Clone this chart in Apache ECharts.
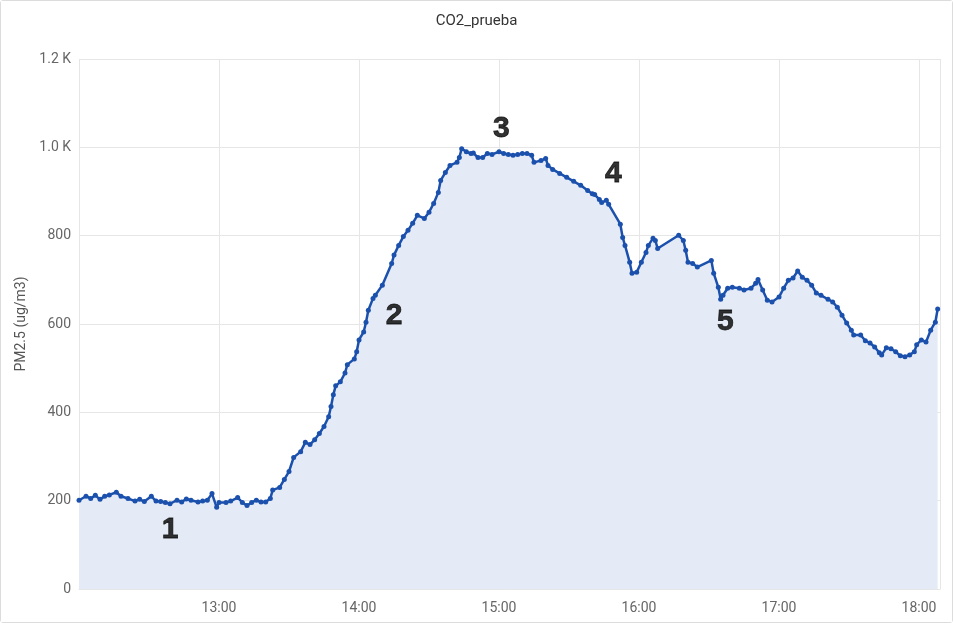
<!DOCTYPE html>
<html>
<head>
<meta charset="utf-8">
<script src="https://cdn.jsdelivr.net/npm/echarts@6/dist/echarts.min.js"></script>
<style>
  html, body { margin: 0; padding: 0; background: #fff; }
  #chart { width: 953px; height: 623px; box-sizing: border-box; border: 1px solid #dcdcdc; border-radius: 3px; }
</style>
</head>
<body>
<div id="chart"></div>
<script>
// ---- data ----
const times = [
  '12:00','12:03','12:05','12:07','12:09','12:11','12:13','12:16','12:18','12:21',
  '12:24','12:26','12:28','12:31','12:33','12:35','12:37','12:39','12:42','12:44',
  '12:46','12:48','12:51','12:53','12:55','12:57','12:59','13:00','13:03','13:05',
  '13:08','13:10','13:12','13:14','13:16','13:18','13:20','13:22','13:23','13:26',
  '13:28','13:30','13:32','13:35','13:37','13:39','13:41','13:43','13:45','13:47',
  '13:48','13:49','13:50','13:52','13:54','13:55','13:58','13:59','14:00','14:02',
  '14:03','14:04','14:06','14:07','14:10','14:14','14:15','14:17','14:19','14:21',
  '14:23','14:25','14:28','14:30','14:32','14:34','14:35','14:37','14:39','14:42',
  '14:43','14:44','14:46','14:48','14:49','14:51','14:53','14:55','14:57','15:00',
  '15:02','15:04','15:06','15:08','15:10','15:12','15:14','15:15','15:18','15:20',
  '15:21','15:23','15:26','15:29','15:32','15:35','15:38','15:40','15:41','15:43',
  '15:44','15:46','15:47','15:52','15:53','15:54','15:56','15:57','15:59','16:01',
  '16:03','16:04','16:06','16:07','16:08','16:17','16:19','16:20','16:21','16:23',
  '16:25','16:31','16:32','16:34','16:35','16:36','16:38','16:40','16:43','16:45',
  '16:48','16:50','16:51','16:53','16:55','16:57','17:00','17:02','17:04','17:06',
  '17:08','17:10','17:12','17:14','17:16','17:18','17:21','17:23','17:25','17:27',
  '17:29','17:31','17:32','17:35','17:37','17:39','17:41','17:43','17:44','17:46',
  '17:48','17:50','17:52','17:54','17:56','17:58','17:59','18:01','18:03','18:05',
  '18:07','18:08'
];
const pm25 = [
  201,210,205,212,203,210,213,219,210,205,
  199,203,198,210,199,198,196,193,201,197,
  204,201,197,199,201,216,185,196,196,199,
  207,196,189,196,201,197,197,205,224,230,
  248,266,298,311,332,327,338,352,368,390,
  413,440,460,469,489,508,521,537,564,582,
  604,631,658,665,688,737,756,778,798,812,
  828,846,839,853,873,898,925,943,959,966,
  977,997,990,986,987,977,977,986,984,990,
  986,984,982,984,986,986,982,966,970,975,
  959,950,941,932,923,914,902,895,893,882,
  875,880,871,826,796,778,740,715,717,740,
  762,778,794,789,771,801,789,767,740,737,
  729,744,715,683,656,665,681,683,681,677,
  681,692,701,677,654,650,661,681,699,704,
  720,706,699,688,670,665,656,650,638,620,
  602,586,575,575,562,557,548,535,530,546,
  544,537,528,526,530,537,553,564,559,586,
  604,634
];
const yTicks = [0, 200, 400, 600, 800, 1000, 1200];
const xTickLabels = ['13:00','14:00','15:00','16:00','17:00','18:00'];
const axisStart = '12:00';
const axisEnd = '18:09';
const annoLabels = ['1','2','3','4','5'];
const annoTimes = ['12:39','14:15','15:01','15:49','16:37'];
const annoValues = [135, 618, 1042, 941, 604];

// ---- helpers ----
function toMin(t) { const p = t.split(':'); return (+p[0] - 12) * 60 + (+p[1]); }
function fmtMin(m) {
  const h = 12 + Math.floor(m / 60), mm = Math.round(m % 60);
  return h + ':' + (mm < 10 ? '0' : '') + mm;
}
const lineData = times.map((t, i) => [toMin(t), pm25[i]]);
const annoData = annoTimes.map((t, i) => ({ value: [toMin(t), annoValues[i]], name: annoLabels[i] }));

const chart = echarts.init(document.getElementById('chart'));
chart.setOption({
  animation: false,
  backgroundColor: '#fff',
  title: {
    text: 'CO2_prueba', left: 'center', top: 8,
    textStyle: { fontFamily: 'Roboto', fontSize: 15, fontWeight: 'normal', color: '#333' }
  },
  grid: { left: 78, right: 12, top: 58, bottom: 33, containLabel: false },
  xAxis: {
    type: 'value',
    min: toMin(axisStart), max: toMin(axisEnd), interval: 60,
    axisLine: { show: true, lineStyle: { color: '#e6e6e6' } },
    axisTick: { show: false },
    axisLabel: {
      showMinLabel: false, showMaxLabel: false,
      color: '#666', fontFamily: 'Roboto', fontSize: 14, margin: 12,
      formatter: v => { const s = fmtMin(v); return xTickLabels.indexOf(s) >= 0 ? s : ''; }
    },
    splitLine: { show: true, lineStyle: { color: '#e6e6e6', width: 1 } }
  },
  yAxis: {
    type: 'value', min: yTicks[0], max: yTicks[yTicks.length - 1], interval: 200,
    name: 'PM2.5 (ug/m3)', nameLocation: 'middle', nameGap: 50, nameRotate: 90,
    nameTextStyle: { color: '#555', fontFamily: 'Roboto', fontSize: 14 },
    axisLine: { show: false }, axisTick: { show: false },
    axisLabel: {
      color: '#666', fontFamily: 'Roboto', fontSize: 14, margin: 8,
      formatter: v => v >= 1000 ? (v / 1000).toFixed(1) + ' K' : String(v)
    },
    splitLine: { show: true, lineStyle: { color: '#e6e6e6', width: 1 } }
  },
  series: [
    {
      type: 'line', data: lineData,
      symbol: 'circle', symbolSize: 5, showAllSymbol: true,
      lineStyle: { color: '#1b51ad', width: 2.5 },
      itemStyle: { color: '#1b51ad' },
      areaStyle: { color: '#e5ebf6', opacity: 1 },
      z: 3
    },
    {
      type: 'scatter', data: annoData, symbolSize: 0,
      label: {
        show: true, position: 'inside', formatter: p => p.name,
        fontFamily: 'Liberation Sans, Arial', fontWeight: 'bold', fontSize: 30,
        color: '#000', textBorderWidth: 0.8, textBorderColor: '#000'
      },
      z: 5, silent: true
    }
  ]
});
</script>
</body>
</html>
